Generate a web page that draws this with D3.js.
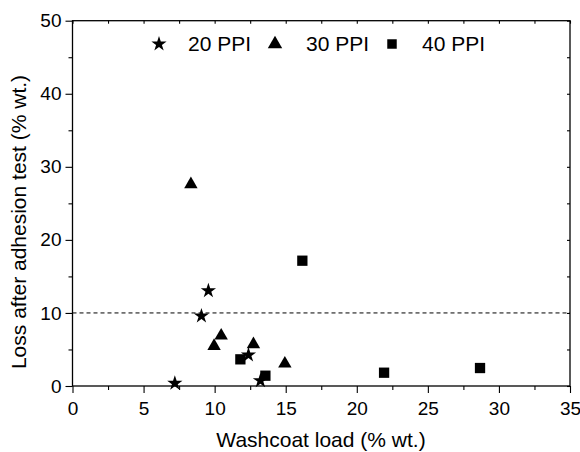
<!DOCTYPE html>
<html><head><meta charset="utf-8">
<script src="https://cdn.jsdelivr.net/npm/d3@7"></script>
<style>body{margin:0;background:#fff;} svg{display:block;font-family:"Liberation Sans",Arial,sans-serif;}</style>
</head><body>
<script>
const series = ["20 PPI","30 PPI","40 PPI"];
const ppi20 = [[7.20,0.37],[9.07,9.58],[9.56,13.04],[12.38,4.24],[13.22,0.73]];
const ppi30 = [[8.33,27.6],[9.96,5.47],[10.46,6.89],[12.73,5.71],[14.94,3.05]];
const ppi40 = [[11.81,3.65],[13.57,1.41],[16.17,17.15],[21.92,1.82],[28.67,2.46]];
const xTicks = [0,5,10,15,20,25,30,35];
const yTicks = [0,10,20,30,40,50];
const threshold = 10;

const W=580,H=452;
const svg=d3.select("body").append("svg").attr("width",W).attr("height",H);
const x=d3.scaleLinear().domain([0,35]).range([72.5,570]);
const y=d3.scaleLinear().domain([0,50]).range([386,20.7]);
const xMinor=d3.range(2.5,35,5), yMinor=d3.range(5,50,10);
const FONT="Liberation Sans, Arial, sans-serif";

// dashed threshold
svg.append("line").attr("x1",x(0)).attr("x2",x(35)).attr("y1",y(threshold)).attr("y2",y(threshold))
  .attr("stroke","#000").attr("stroke-width",1).attr("stroke-dasharray","4,3");

// frame
svg.append("rect").attr("x",x(0)).attr("y",y(50)).attr("width",x(35)-x(0)).attr("height",y(0)-y(50))
  .attr("fill","none").attr("stroke","#000").attr("stroke-width",1.3);

// bottom axis (outward)
const bx=svg.append("g").attr("transform",`translate(0,${y(0)})`)
  .call(d3.axisBottom(x).tickValues(xTicks).tickSize(7).tickPadding(9).tickFormat(d3.format("d")));
bx.select(".domain").remove();
bx.selectAll("text").attr("font-size",19).attr("font-family",FONT);
const bxm=svg.append("g").attr("transform",`translate(0,${y(0)})`)
  .call(d3.axisBottom(x).tickValues(xMinor).tickSize(4).tickFormat(""));
bxm.select(".domain").remove();
// top axis inward
const tx=svg.append("g").attr("transform",`translate(0,${y(50)})`)
  .call(d3.axisBottom(x).tickValues(xTicks.concat(xMinor)).tickSize(3).tickFormat(""));
tx.select(".domain").remove();
// left axis (outward)
const ly=svg.append("g").attr("transform",`translate(${x(0)},0)`)
  .call(d3.axisLeft(y).tickValues(yTicks).tickSize(7).tickPadding(4).tickFormat(d3.format("d")));
ly.select(".domain").remove();
ly.selectAll("text").attr("font-size",19).attr("font-family",FONT);
const lym=svg.append("g").attr("transform",`translate(${x(0)},0)`)
  .call(d3.axisLeft(y).tickValues(yMinor).tickSize(4).tickFormat(""));
lym.select(".domain").remove();
// right axis inward
const ry=svg.append("g").attr("transform",`translate(${x(35)},0)`)
  .call(d3.axisLeft(y).tickValues(yTicks.concat(yMinor)).tickSize(3).tickFormat(""));
ry.select(".domain").remove();
svg.selectAll(".tick line").attr("stroke","#000").attr("stroke-width",1.1);
svg.selectAll(".tick text").attr("fill","#000");

// symbols
const shapes=[d3.symbolStar,d3.symbolTriangle,d3.symbolSquare];
const sizes=[72,78,106];
const data=[ppi20,ppi30,ppi40];
data.forEach((arr,i)=>{
  svg.append("g").selectAll("path").data(arr).join("path")
    .attr("transform",d=>`translate(${x(d[0])},${y(d[1])})`)
    .attr("d",d3.symbol().type(shapes[i]).size(sizes[i]))
    .attr("fill","#000");
});

// legend
const legX=[159,275,392], legTX=[188,306,422];
const legSizes=[72,90,90];
series.forEach((s,i)=>{
  svg.append("path").attr("transform",`translate(${legX[i]},${44})`)
    .attr("d",d3.symbol().type(shapes[i]).size(legSizes[i])).attr("fill","#000");
  svg.append("text").attr("x",legTX[i]).attr("y",51).attr("font-size",21).text(s);
});

// axis titles
svg.append("text").attr("x",321).attr("y",447).attr("text-anchor","middle")
  .attr("font-size",21).text("Washcoat load (% wt.)");
svg.append("text").attr("transform",`translate(26,222) rotate(-90)`)
  .attr("text-anchor","middle").attr("font-size",21).text("Loss after adhesion test (% wt.)");
</script>
</body></html>
